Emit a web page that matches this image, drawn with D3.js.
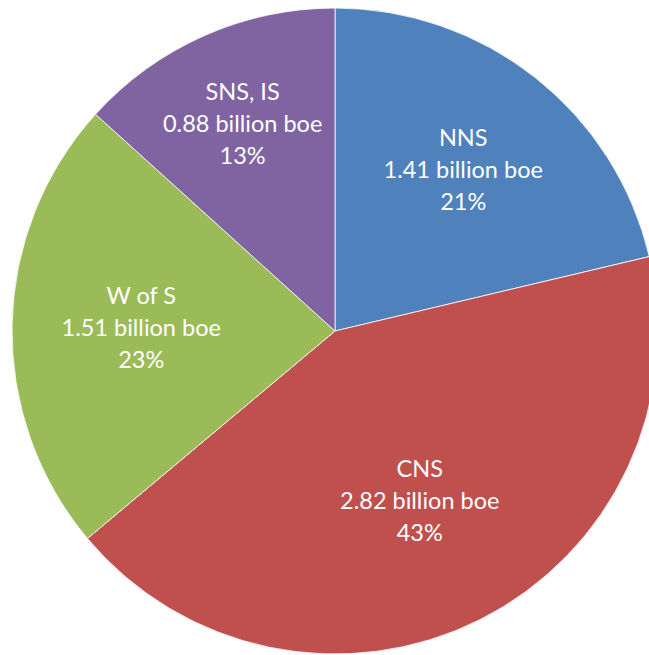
<!DOCTYPE html>
<html>
<head>
<meta charset="utf-8">
<script src="https://cdn.jsdelivr.net/npm/d3@7"></script>
<style>
  html, body { margin: 0; padding: 0; background: #fff; }
  svg { display: block; }
</style>
</head>
<body>
<svg id="chart" width="649" height="655"></svg>
<script>
// Recoverable reserves by North Sea region
const regions = ["NNS", "CNS", "W of S", "SNS, IS"];
const reserves = [1.41, 2.82, 1.51, 0.88];   // billion boe
const percents = [21, 43, 23, 13];
const colors = ["#4F81BD", "#C0504D", "#9BBB59", "#8064A2"];

// label distance from centre, as a share of the radius
const labelRadius = [0.64, 0.585, 0.60, 0.705];

const width = 649, height = 655;
const cx = 335, cy = 331, radius = 323;

const svg = d3.select("#chart");
const g = svg.append("g").attr("transform", `translate(${cx},${cy})`);

const pie = d3.pie().sort(null).value(d => d.value);
const data = regions.map((r, i) => ({ name: r, value: reserves[i], pct: percents[i], color: colors[i], lr: labelRadius[i] }));
const arcs = pie(data);

const arc = d3.arc().innerRadius(0).outerRadius(radius);

g.selectAll("path.slice")
  .data(arcs)
  .join("path")
  .attr("class", "slice")
  .attr("d", arc)
  .attr("fill", d => d.data.color)
  .attr("stroke", "#ffffff")
  .attr("stroke-width", 0.8);

const lineGap = 32;
const labels = g.selectAll("text.lbl")
  .data(arcs)
  .join("text")
  .attr("class", "lbl")
  .attr("transform", d => {
    const r = radius * d.data.lr;
    const a = (d.startAngle + d.endAngle) / 2;
    return `translate(${r * Math.sin(a)},${-r * Math.cos(a)})`;
  })
  .attr("text-anchor", "middle")
  .attr("fill", "#ffffff")
  .style("font-family", "Lato, 'Open Sans', sans-serif")
  .style("font-size", "23.5px");

labels.each(function(d) {
  const t = d3.select(this);
  const lines = [d.data.name, `${d3.format(".2f")(d.data.value)} billion boe`, `${d.data.pct}%`];
  lines.forEach((s, i) => {
    t.append("tspan")
      .attr("x", 0)
      .attr("y", (i - 1) * lineGap)
      .attr("dominant-baseline", "central")
      .text(s);
  });
});
</script>
</body>
</html>
